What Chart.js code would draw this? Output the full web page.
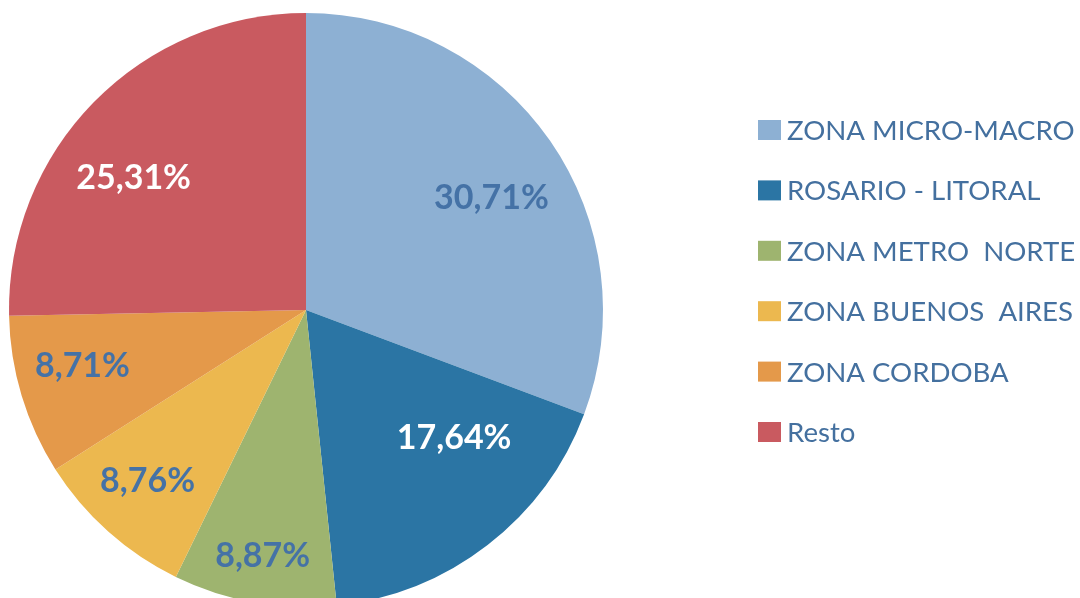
<!DOCTYPE html>
<html>
<head>
<meta charset="utf-8">
<script src="https://cdn.jsdelivr.net/npm/chart.js@4"></script>
<style>
  html, body { margin: 0; padding: 0; background: #fff; overflow: hidden; }
  #wrap { width: 1080px; height: 620px; }
</style>
</head>
<body>
<div id="wrap"><canvas id="pie" width="1080" height="620"></canvas></div>
<script>
// Data
const zones = ['ZONA MICRO-MACRO', 'ROSARIO - LITORAL', 'ZONA METRO  NORTE', 'ZONA BUENOS  AIRES', 'ZONA CORDOBA', 'Resto'];
const shares = [30.71, 17.64, 8.87, 8.76, 8.71, 25.31];
const sliceColors = ['#8DB0D3', '#2B75A4', '#9EB46F', '#ECB84F', '#E4994A', '#C95A60'];
const labelColors = ['#4572A6', '#FFFFFF', '#4572A6', '#4572A6', '#4572A6', '#FFFFFF'];

// label placement (fraction of radius, angle shift in degrees from slice middle)
const labelRadius = [0.731, 0.656, 0.838, 0.783, 0.775, 0.734];
const labelShift = [3.4, -11.8, 0, 1.2, 3.0, -6.7];

const FONT = 'Lato, "Open Sans", sans-serif';

// percent labels inside slices
const sliceLabels = {
  id: 'sliceLabels',
  afterDatasetsDraw(chart) {
    const ctx = chart.ctx;
    const meta = chart.getDatasetMeta(0);
    ctx.save();
    ctx.font = 'bold 34px ' + FONT;
    ctx.textAlign = 'center';
    ctx.textBaseline = 'alphabetic';
    meta.data.forEach((arc, i) => {
      const p = arc.getProps(['x', 'y', 'startAngle', 'endAngle', 'outerRadius'], true);
      const mid = (p.startAngle + p.endAngle) / 2 + labelShift[i] * Math.PI / 180;
      const r = p.outerRadius * labelRadius[i];
      ctx.fillStyle = labelColors[i];
      const txt = shares[i].toFixed(2).replace('.', ',') + '%';
      // baseline shifted so the digits are centred on the point
      ctx.fillText(txt, p.x + Math.cos(mid) * r, p.y + Math.sin(mid) * r + 12);
    });
    ctx.restore();
  }
};

// legend on the right
const sideLegend = {
  id: 'sideLegend',
  afterDraw(chart) {
    const ctx = chart.ctx;
    const colors = chart.data.datasets[0].backgroundColor;
    ctx.save();
    ctx.font = '27.6px ' + FONT;
    ctx.textAlign = 'left';
    ctx.textBaseline = 'middle';
    chart.data.labels.forEach((lbl, i) => {
      const y = 130 + i * 60.4;
      ctx.fillStyle = colors[i];
      ctx.fillRect(758, y - 10, 23, 20);
      ctx.fillStyle = '#44709F';
      ctx.fillText(lbl, 787, y + 1);
    });
    ctx.restore();
  }
};

new Chart(document.getElementById('pie'), {
  type: 'pie',
  data: {
    labels: zones,
    datasets: [{
      data: shares,
      backgroundColor: sliceColors,
      borderWidth: 0
    }]
  },
  options: {
    responsive: false,
    animation: false,
    devicePixelRatio: 1,
    layout: { padding: { left: 9, top: 13, right: 477, bottom: 13 } },
    plugins: {
      legend: { display: false },
      tooltip: { enabled: false }
    }
  },
  plugins: [sliceLabels, sideLegend]
});
</script>
</body>
</html>
